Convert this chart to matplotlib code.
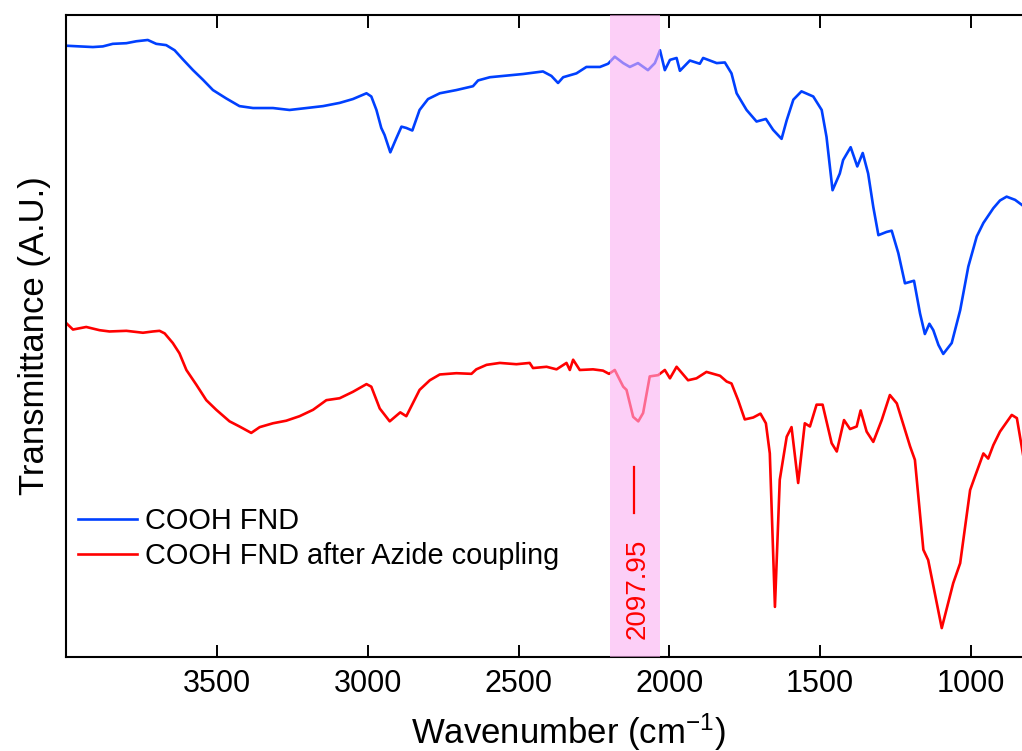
import numpy as np
import matplotlib
matplotlib.use("Agg")
from matplotlib import pyplot as plt

plt.rcParams['font.family'] = ['Liberation Sans', 'DejaVu Sans']
plt.rcParams['mathtext.fontset'] = 'custom'
plt.rcParams['mathtext.rm'] = 'Liberation Sans'
plt.rcParams['mathtext.it'] = 'Liberation Sans'

# COOH FND (blue), wavenumber in cm-1 and transmittance in A.U.
wn_cooh = [3997, 3955, 3911, 3878, 3845, 3800, 3767, 3729, 3701, 3668, 3640, 3613,
           3579, 3546, 3513, 3469, 3425, 3380, 3314, 3259, 3203, 3148, 3093, 3049,
           3004, 2988, 2971, 2955, 2944, 2925, 2905, 2888, 2872, 2852, 2828, 2800,
           2761, 2706, 2651, 2634, 2595, 2551, 2485, 2419, 2391, 2369, 2352, 2308,
           2275, 2230, 2203, 2181, 2153, 2131, 2104, 2071, 2048, 2031, 2015, 1998,
           1976, 1965, 1932, 1899, 1888, 1843, 1816, 1794, 1777, 1744, 1711, 1680,
           1656, 1628, 1611, 1589, 1562, 1523, 1495, 1479, 1459, 1435, 1424, 1399,
           1377, 1359, 1341, 1324, 1307, 1280, 1263, 1241, 1219, 1189, 1169, 1153,
           1138, 1125, 1108, 1092, 1064, 1036, 1009, 981, 959, 926, 904, 882, 854,
           831, 815]
t_cooh = [95.2, 95.1, 95.0, 95.1, 95.5, 95.6, 95.9, 96.1, 95.5, 95.3, 94.5, 93.1,
          91.4, 89.9, 88.3, 87.0, 85.8, 85.5, 85.5, 85.2, 85.5, 85.8, 86.3, 86.9,
          87.8, 87.3, 85.2, 82.4, 81.3, 78.6, 80.8, 82.6, 82.4, 82.0, 85.2, 86.9,
          87.8, 88.3, 88.9, 89.8, 90.3, 90.5, 90.8, 91.2, 90.5, 89.4, 90.3, 90.9,
          91.9, 91.9, 92.4, 93.5, 92.5, 91.9, 92.5, 91.4, 92.5, 94.5, 91.4, 93.0,
          93.3, 91.3, 92.9, 92.4, 93.3, 92.5, 92.6, 90.9, 87.8, 85.2, 83.4, 83.8,
          82.1, 80.7, 83.6, 86.8, 88.1, 87.3, 85.2, 81.0, 72.7, 75.3, 77.4, 79.4,
          76.4, 78.5, 75.3, 70.1, 65.7, 66.2, 66.4, 62.9, 58.2, 58.6, 53.5, 50.3,
          51.9, 50.9, 48.6, 47.2, 48.9, 54.0, 60.8, 65.5, 67.6, 69.9, 71.1, 71.7,
          71.2, 70.4, 69.8]

# COOH FND after Azide coupling (red)
wn_azide = [3997, 3977, 3933, 3889, 3856, 3800, 3745, 3712, 3690, 3673, 3646, 3624,
            3601, 3568, 3535, 3502, 3458, 3425, 3386, 3358, 3314, 3270, 3226, 3181,
            3137, 3093, 3049, 3004, 2988, 2960, 2927, 2892, 2872, 2828, 2794, 2761,
            2706, 2656, 2640, 2606, 2562, 2507, 2463, 2452, 2407, 2374, 2341, 2330,
            2319, 2297, 2253, 2220, 2200, 2181, 2153, 2142, 2120, 2103, 2087, 2065,
            2037, 2015, 1998, 1976, 1938, 1910, 1877, 1832, 1810, 1794, 1772, 1750,
            1722, 1698, 1680, 1667, 1650, 1634, 1611, 1595, 1573, 1551, 1534, 1512,
            1492, 1462, 1445, 1421, 1401, 1379, 1366, 1346, 1324, 1296, 1269, 1246,
            1202, 1186, 1158, 1142, 1097, 1059, 1036, 1003, 987, 959, 943, 926, 904,
            865, 848, 831, 815]
t_azide = [51.9, 51.0, 51.4, 50.9, 50.7, 50.8, 50.5, 50.7, 50.8, 50.4, 48.9, 47.3,
           44.7, 42.4, 40.0, 38.5, 36.7, 35.9, 34.9, 35.8, 36.4, 36.8, 37.5, 38.5,
           40.0, 40.3, 41.3, 42.5, 42.1, 38.7, 36.7, 38.1, 37.5, 41.6, 43.1, 44.0,
           44.2, 44.1, 44.8, 45.5, 45.8, 45.6, 45.8, 45.0, 45.2, 44.8, 45.8, 44.7,
           46.3, 44.7, 44.8, 44.6, 44.1, 44.7, 42.1, 41.6, 37.4, 36.7, 38.0, 43.7,
           43.9, 44.7, 43.4, 45.2, 43.1, 43.4, 44.4, 43.8, 42.9, 42.6, 40.0, 37.0,
           37.3, 37.9, 36.4, 31.7, 7.8, 27.6, 34.3, 35.8, 27.1, 36.4, 35.9, 39.3,
           39.3, 33.3, 32.0, 36.9, 35.5, 35.9, 38.4, 35.1, 33.5, 36.9, 40.8, 39.5,
           32.8, 30.7, 16.7, 15.1, 4.5, 11.5, 14.6, 26.0, 28.1, 31.7, 30.9, 33.0, 35.1,
           37.7, 37.2, 32.5, 28.0]

labels = ['COOH FND', 'COOH FND after Azide coupling']
band = [2197, 2031]          # highlighted azide region
peak_label = '2097.95'
xticks = [3500, 3000, 2500, 2000, 1500, 1000]

fig = plt.figure(figsize=(10.22, 7.51), dpi=100)
ax = fig.add_axes([0.0646, 0.1252, 0.9354, 0.8549])

ax.plot(wn_cooh, t_cooh, color='#0040FF', lw=1.9, label=labels[0])
ax.plot(wn_azide, t_azide, color='#FF0000', lw=1.9, label=labels[1])
ax.axvspan(band[1], band[0], color=(251/255, 176/255, 242/255), alpha=0.6,
           lw=0, zorder=3)

# peak marker + label, drawn over the band
ax.plot([2118, 2118], [22.4, 29.6], color='#FF0000', lw=1.6, zorder=4)
ax.text(2104, 10.6, peak_label, rotation=90, color='#FF0000', fontsize=20,
        ha='center', va='center', zorder=4)

ax.set_xlim(4000, 831)
ax.set_ylim(0, 100)
ax.set_xticks(xticks)
ax.set_yticks([])
ax.tick_params(axis='x', which='both', direction='in', top=True, bottom=True,
               length=9, width=1.4, labelsize=22, pad=9)
for s in ['left', 'bottom', 'top']:
    ax.spines[s].set_linewidth(1.5)
ax.spines['right'].set_visible(False)

ax.set_xlabel(r'Wavenumber (cm$^{-1}$)', fontsize=25)
ax.set_ylabel('Transmittance (A.U.)', fontsize=25)
ax.xaxis.set_label_coords(0.525, -0.085)
ax.yaxis.set_label_coords(-0.016, 0.5)

ax.legend(loc='center left', bbox_to_anchor=(0.0, 0.184), frameon=False,
          fontsize=20.8, handlelength=2.05, handletextpad=0.28, labelspacing=0.25,
          borderpad=0, borderaxespad=0.4)

fig.savefig('out.png', dpi=100)
